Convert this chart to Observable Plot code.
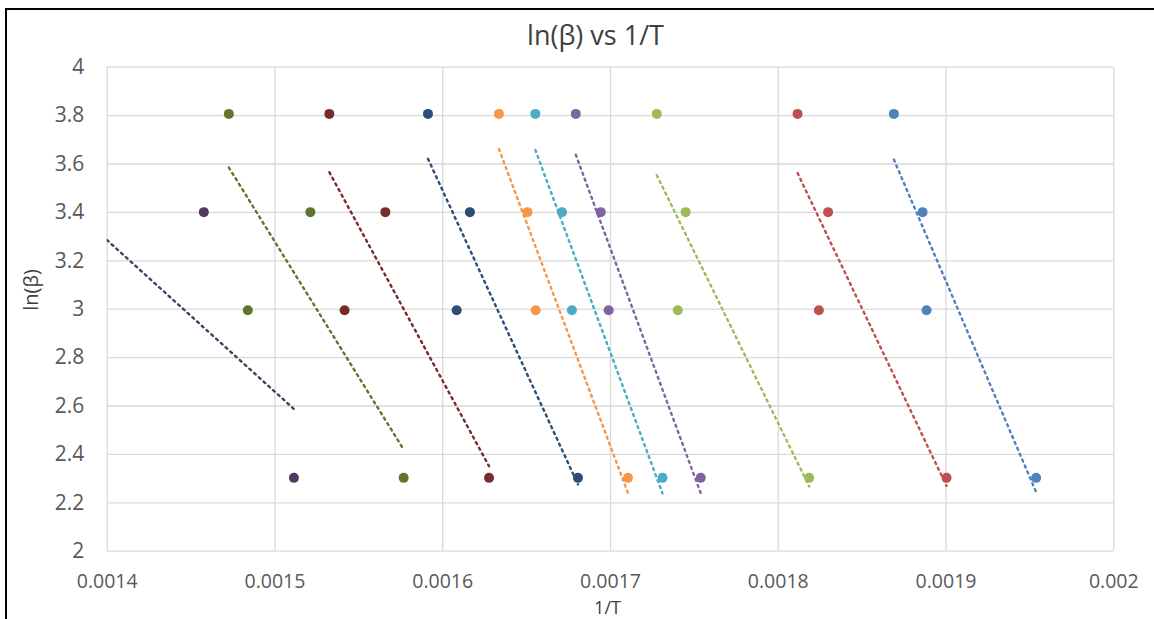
<!DOCTYPE html>
<html>
<head>
<meta charset="utf-8">
<script src="https://cdn.jsdelivr.net/npm/d3@7"></script>
<script src="https://cdn.jsdelivr.net/npm/@observablehq/plot@0.6"></script>
<style>
  body { margin: 0; background: #fff; }
  #wrap { position: relative; width: 1154px; height: 619px; overflow: hidden; background: #fff; }
  #chart { position: absolute; left: 0; top: 0; }
  #border { position: absolute; left: 5px; top: 8px; width: 1200px; height: 700px;
            border-top: 2px solid #000; border-left: 2px solid #000; pointer-events: none; }
</style>
</head>
<body>
<div id="wrap"><div id="chart"></div><div id="border"></div></div>
<script>
// ---- data ----
const seriesNames = ["Series1","Series2","Series3","Series4","Series5","Series6","Series7","Series8","Series9","Series10"];
const seriesColors = ["#4F81BD","#C0504D","#9BBB59","#8064A2","#4BACC6","#F79646","#2C4D75","#772C2A","#5F7530","#4D3B62"];
const lnBeta = [3.807, 3.401, 2.996, 2.303];
// 1/T values for each series, in the order of lnBeta
const invT1  = [0.0018689, 0.0018860, 0.0018884, 0.0019537];
const invT2  = [0.0018115, 0.0018297, 0.0018242, 0.0019003];
const invT3  = [0.0017276, 0.0017448, 0.0017401, 0.0018184];
const invT4  = [0.0016793, 0.0016942, 0.0016989, 0.0017538];
const invT5  = [0.0016552, 0.0016711, 0.0016770, 0.0017310];
const invT6  = [0.0016335, 0.0016505, 0.0016554, 0.0017104];
const invT7  = [0.0015912, 0.0016162, 0.0016083, 0.0016806];
const invT8  = [0.0015324, 0.0015658, 0.0015415, 0.0016276];
const invT9  = [0.0014725, 0.0015211, 0.0014838, 0.0015767];
const invT10 = [0.0013630, 0.0014576, 0.0013690, 0.0015113];
const invTs = [invT1, invT2, invT3, invT4, invT5, invT6, invT7, invT8, invT9, invT10];
const xTicks = [0.0014, 0.0015, 0.0016, 0.0017, 0.0018, 0.0019, 0.002];
const yTicks = [2, 2.2, 2.4, 2.6, 2.8, 3, 3.2, 3.4, 3.6, 3.8, 4];
const titleText = "ln(β) vs 1/T";
const xTitle = "1/T";
const yTitle = "ln(β)";

const data = [];
seriesNames.forEach((s, i) => invTs[i].forEach((x, j) => data.push({series: s, x, y: lnBeta[j]})));

const grid = "#d9d9d9";
const chart = Plot.plot({
  width: 1154,
  height: 619,
  marginLeft: 106.7,
  marginRight: 40.7,
  marginTop: 66.7,
  marginBottom: 68.3,
  style: {fontFamily: "'Open Sans', sans-serif", background: "#fff", overflow: "visible"},
  x: {domain: [0.0014, 0.002]},
  y: {domain: [2, 4]},
  color: {domain: seriesNames, range: seriesColors},
  marks: [
    Plot.gridX(xTicks, {stroke: grid, strokeOpacity: 1, strokeWidth: 1.3}),
    Plot.gridY(yTicks, {stroke: grid, strokeOpacity: 1, strokeWidth: 1.3}),
    Plot.axisX(xTicks, {tickSize: 0, tickPadding: 23, fontSize: 19.5, fill: "#595959", label: null,
      tickFormat: d => String(+d.toFixed(4))}),
    Plot.axisY(yTicks, {tickSize: 0, tickPadding: 23, fontSize: 21, fill: "#595959", label: null,
      tickFormat: d => String(+d.toFixed(1))}),
    Plot.dot(data, {x: "x", y: "y", fill: "series", r: 5, clip: true}),
    Plot.linearRegressionY(data, {x: "x", y: "y", stroke: "series", ci: 0, strokeWidth: 2.4,
      strokeDasharray: "2.2,4.2", clip: true}),
    Plot.text([titleText], {frameAnchor: "top", lineAnchor: "bottom", dy: -22.5, dx: -15,
      fontSize: 27, fill: "#404040"}),
    Plot.text([xTitle], {frameAnchor: "bottom", lineAnchor: "bottom", dy: 62.3, dx: -3,
      fontSize: 18, fill: "#404040"}),
    Plot.text([yTitle], {frameAnchor: "left", rotate: -90, dx: -75.7, dy: 1.5,
      fontSize: 20, fill: "#404040"})
  ]
});
document.getElementById("chart").appendChild(chart);
</script>
</body>
</html>
